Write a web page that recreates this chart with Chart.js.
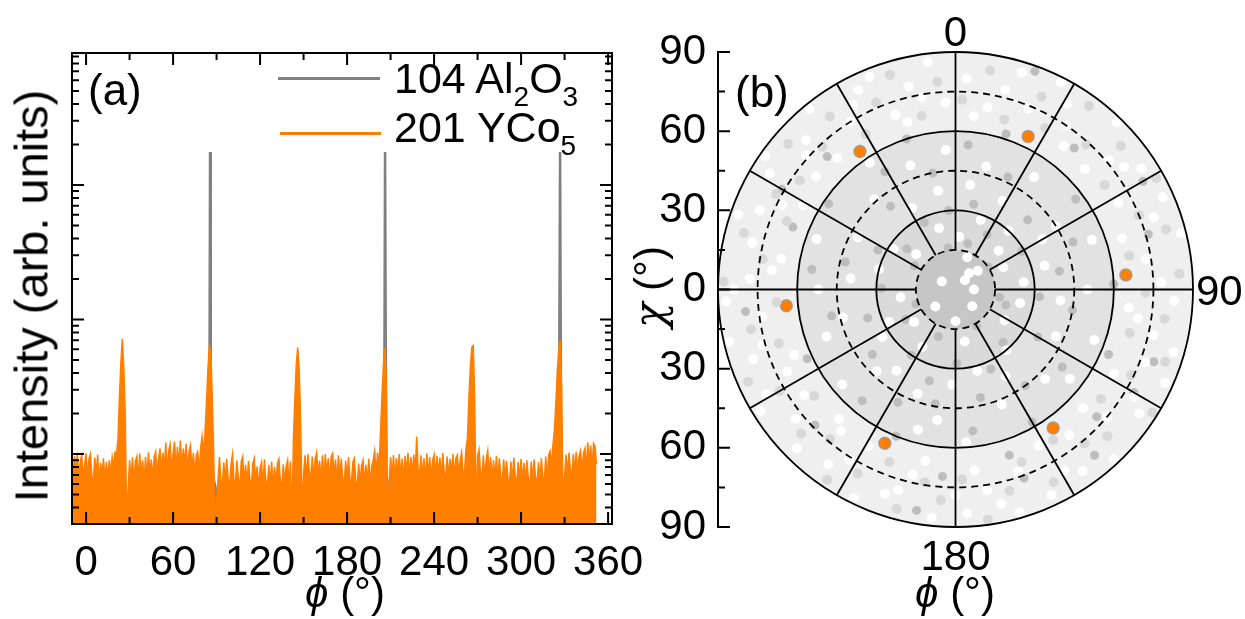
<!DOCTYPE html>
<html>
<head>
<meta charset="utf-8">
<script src="https://cdn.jsdelivr.net/npm/chart.js@4/dist/chart.umd.min.js"></script>
<style>
  html, body { margin: 0; padding: 0; background: #fff; }
  #wrap { position: relative; width: 1245px; height: 619px; overflow: hidden;
          font-family: "Liberation Sans", Arial, sans-serif; color: #000; }
  canvas { position: absolute; top: 0; }
  #phiChart { left: 0; }
  #poleChart { left: 620px; }
  .lbl { position: absolute; white-space: nowrap; line-height: 1; font-size: 42px; }
  .sub { font-size: 28px; position: relative; top: 13px; }
  .key { position: absolute; height: 3px; }
  .chi { font-family: "DejaVu Serif", serif; font-style: italic; }
</style>
</head>
<body>
<div id="wrap">
  <canvas id="phiChart" width="660" height="619"></canvas>
  <canvas id="poleChart" width="625" height="619"></canvas>

  <div class="lbl" style="left:31px;top:296px;font-size:47px;transform:translate(-50%,-50%) rotate(-90deg);">Intensity (arb. units)</div>
  <div class="lbl" style="left:88px;top:68px;font-size:44px;">(a)</div>
  <div class="key" style="left:278px;top:77px;width:102px;background:#808080;"></div>
  <div class="lbl" style="left:394px;top:57px;font-size:43px;">104 Al<span class="sub">2</span>O<span class="sub">3</span></div>
  <div class="key" style="left:280px;top:132px;width:101px;background:#ff7f00;"></div>
  <div class="lbl" style="left:394px;top:106px;font-size:43px;">201 YCo<span class="sub">5</span></div>
  <div class="lbl" style="left:345px;top:572px;transform:translateX(-50%);"><i>ϕ</i> (°)</div>

  <div class="lbl" style="left:735px;top:70px;font-size:44px;">(b)</div>
  <div class="lbl" style="left:650px;top:287px;transform:translate(-50%,-50%) rotate(-90deg);"><span class="chi">χ</span> (°)</div>
  <div class="lbl" style="left:955px;top:572px;transform:translateX(-50%);"><i>ϕ</i> (°)</div>
</div>

<script>
const FONT = '"Liberation Sans", Arial, sans-serif';
const ORANGE = '#ff7f00';
const GRAY = '#808080';

// (a) phi scans, YCo5 201 sampled every degree from phiStart
const phiStart = -9;
const ycoInt = [
  6.8, 9.6, 7.0, 10.2, 6.4, 8.9, 9.8, 6.6, 8.4, 10.1,
  6.5, 9.2, 10.0, 6.9, 6.2, 9.4, 7.1, 9.9, 6.0, 8.6,
  7.0, 9.3, 6.3, 8.7, 6.6, 9.0, 7.2, 9.5, 8.0, 10.3,
  10.0, 13, 26, 48, 72, 44, 20, 3.2, 5.5, 9.0,
  6.6, 9.4, 6.2, 8.8, 9.6, 6.5, 10.1, 6.9, 9.0, 6.3,
  9.5, 6.7, 10.3, 7.2, 9.1, 6.4, 9.6, 10.4, 6.8, 9.2,
  11.0, 7.3, 10.2, 8.0, 12.2, 7.1, 10.6, 11.8, 7.6, 10.0,
  12.4, 7.5, 11.3, 8.2, 12.6, 7.8, 11.0, 8.6, 11.9, 7.4,
  10.5, 11.6, 7.6, 10.2, 7.0, 9.8, 10.4, 7.4, 11.0, 13.5,
  10.0, 14, 24, 42, 63, 58, 27, 10, 3.0, 4.5,
  6.4, 9.5, 6.3, 5.9, 8.7, 6.1, 9.2, 6.5, 5.8, 8.5,
  10.0, 6.3, 6.0, 9.0, 6.6, 5.6, 8.8, 9.6, 6.1, 8.3,
  5.9, 8.9, 6.4, 5.7, 8.5, 9.3, 6.1, 8.1, 5.5, 7.9,
  8.7, 5.8, 9.1, 6.3, 5.7, 8.3, 6.0, 8.8, 5.6, 8.0,
  6.1, 8.6, 9.2, 6.2, 5.8, 8.4, 6.0, 8.1, 9.0, 6.0,
  8.8, 3.0, 13, 26, 47, 62, 42, 17, 3.5, 7.0,
  9.8, 6.6, 10.0, 7.2, 6.8, 9.6, 6.4, 9.2, 10.3, 7.0,
  8.9, 6.5, 9.8, 6.7, 10.0, 7.1, 9.3, 6.2, 9.5, 10.1,
  6.9, 9.1, 6.3, 9.8, 6.8, 9.2, 6.6, 6.0, 8.9, 6.7,
  9.5, 6.4, 6.1, 8.7, 9.3, 6.2, 5.8, 8.5, 6.0, 8.2,
  9.0, 5.9, 8.3, 6.2, 9.2, 5.7, 8.1, 8.9, 10.5, 7.1,
  10.2, 8.0, 14, 26, 45, 61, 38, 3.2, 6.0, 9.5,
  6.7, 9.8, 6.5, 9.3, 7.0, 10.0, 6.8, 9.2, 6.3, 9.7,
  7.2, 10.2, 6.6, 9.5, 7.1, 9.9, 7.4, 13.5, 7.7, 6.9,
  9.8, 6.7, 9.3, 6.4, 10.1, 7.0, 9.5, 6.5, 9.0, 9.9,
  6.8, 9.7, 7.1, 9.4, 6.6, 10.2, 7.2, 6.9, 9.6, 6.7,
  9.2, 7.1, 10.0, 6.8, 9.3, 9.8, 7.0, 9.1, 10.3, 7.2,
  7.4, 11.0, 13, 26, 44, 62, 64, 26, 3.4, 9.7,
  10.8, 7.4, 6.8, 9.8, 6.6, 9.2, 10.6, 7.0, 9.5, 6.4,
  9.0, 6.7, 9.7, 6.2, 9.3, 6.9, 6.1, 9.1, 6.6, 8.9,
  6.5, 6.0, 8.8, 6.3, 9.4, 6.8, 5.9, 8.7, 6.4, 9.2,
  6.2, 8.6, 6.1, 9.0, 6.6, 5.8, 8.8, 6.5, 9.1, 6.7,
  6.0, 8.7, 6.3, 9.3, 6.8, 6.2, 9.6, 6.6, 9.8, 10.5,
  8.2, 11.8, 15, 24, 42, 60, 70, 30, 3.3, 7.0,
  9.9, 7.0, 10.2, 7.6, 6.8, 10.0, 7.4, 10.4, 7.1, 9.7,
  10.6, 7.5, 10.1, 11.0, 7.8, 12.2, 8.6, 11.6, 8.1, 12.0,
  11.4, 8.4
];

// Al2O3 104, only where it shows
const alPhi = [-9, 21, 23, 25, 27, 29,
  81, 83, 85, 85.5, 86, 88, 90, 92,
  140, 142, 144, 146, 148, 150, 152,
  201, 203, 205.5, 206.2, 207, 209, 211,
  261, 263, 265, 266.5, 268, 270,
  321, 323, 326, 326.9, 327.7, 329, 331, 352];
const alInt = [2.5, 2.5, 4.2, 5.7, 5.0, 2.5,
  2.5, 4.5, 7.5, 1760, 7.5, 6.5, 5.2, 2.5,
  2.5, 5.0, 5.5, 5.8, 5.4, 4.5, 2.5,
  2.5, 4.5, 7, 1760, 7, 5.5, 2.5,
  2.5, 4.6, 5.5, 5.9, 5.2, 2.5,
  2.5, 4.5, 7, 1760, 7, 5.4, 2.5, 2.5];

const phiTicks = [0, 60, 120, 180, 240, 300, 360];
const phiMinor = [30, 90, 150, 210, 270, 330];

// (b) pole figure, [phi, chi] in degrees
const spotPhi = [25.4, 85.1, 144.8, 204.7, 264.5, 325.3];
const spotChi = [64.2, 64.8, 64.2, 64.1, 64.4, 63.6];

const lightSpeck = [
  [3,80],[10,70],[17,86],[22,74],[31,82],[37,68],[44,88],[50,76],[57,84],[62,70],
  [70,80],[76,88],[81,73],[93,83],[99,70],[106,86],[111,77],[118,68],[124,84],[130,75],
  [137,88],[142,70],[149,80],[155,86],[161,73],[168,83],[174,69],[180,78],[186,87],[193,72],
  [199,82],[206,88],[212,76],[219,69],[225,85],[231,78],[238,87],[244,71],[251,81],[257,88],
  [262,74],[270,84],[276,70],[283,79],[289,87],[296,73],[302,83],[309,68],[315,80],[321,88],
  [328,75],[334,84],[341,70],[347,79],[353,87],
  [6,66],[14,78],[27,88],[34,75],[47,67],[54,79],[66,86],[73,66],[88,78],[96,66],
  [103,77],[114,87],[121,79],[133,66],[145,84],[152,67],[164,88],[171,77],[177,85],[190,66],
  [196,79],[209,68],[216,82],[222,66],[235,70],[241,82],[248,66],[254,76],[267,87],[273,78],
  [280,67],[292,80],[299,66],[305,88],[312,76],[318,67],[331,80],[338,87],[344,66],[350,74],[357,71],
  [8,40],[20,28],[35,52],[48,22],[58,45],[75,35],[90,50],[102,25],[115,42],[128,55],
  [140,30],[158,47],[170,20],[182,36],[195,55],[210,25],[224,43],[237,33],[250,52],[262,21],
  [276,40],[290,56],[303,28],[318,46],[332,35],[345,24],[356,53],
  [28,38],[65,20],[84,26],[110,56],[150,38],[200,42],[230,56],[285,30],[340,50],
  [4,20],[14,48],[42,30],[70,55],[96,40],[122,22],[135,48],[165,32],[188,50],[216,38],
  [244,28],[256,44],[270,52],[298,42],[312,20],[326,58],[350,38],[60,38],[176,58],[232,20],
  [40,8],[45,5],[50,11],[135,9],[180,12],[300,6],[230,10],[20,13],[90,7]
];

const paleSpeck = [
  [2,72],[9,84],[16,67],[24,80],[29,70],[36,86],[42,74],[49,83],[55,69],[61,87],
  [68,75],[74,83],[79,67],[86,85],[91,72],[98,80],[104,68],[109,84],[116,74],[122,88],
  [127,69],[134,80],[140,76],[147,68],[153,82],[159,70],[165,79],[172,88],[178,72],[184,80],
  [189,74],[195,86],[201,70],[208,79],[214,87],[220,74],[227,80],[233,67],[240,77],[246,86],
  [253,70],[259,79],[266,68],[272,88],[279,74],[285,83],[292,69],[298,77],[305,72],[311,84],
  [317,74],[324,81],[330,68],[337,77],[343,85],[349,67],[355,79]
];

const darkSpeck = [
  [5,55],[12,33],[18,62],[25,47],[30,24],[40,70],[46,38],[53,57],[60,29],[68,48],
  [74,76],[80,40],[88,60],[95,32],[100,45],[107,20],[113,63],[120,36],[126,50],[132,72],
  [138,27],[144,45],[150,58],[156,33],[162,66],[167,42],[173,54],[179,28],[184,71],[190,44],
  [196,36],[202,60],[207,48],[214,30],[220,55],[226,74],[232,40],[239,22],[245,62],[252,35],
  [258,48],[264,80],[271,28],[278,55],[284,43],[291,66],[297,33],[304,58],[310,24],[316,70],
  [322,40],[329,52],[335,28],[342,60],[349,45],[355,30],
  [15,18],[55,15],[100,17],[150,16],[200,19],[250,16],[300,18],[350,16],
  [120,78],[140,82],[160,76],[110,80],[190,85],[300,76],[60,82],[20,88]
];

const chiTicks = [-90, -60, -30, 0, 30, 60, 90];
const chiMinor = [-75, -45, -15, 15, 45, 75];
const phiLabels = ['0', '90', '180'];
const solidRings = [30, 60, 90];
const dashedRings = [15, 45, 75];
const spokePhi = [0, 30, 60, 90, 120, 150, 180, 210, 240, 270, 300, 330];

const toXY = (phi, chi) => ({
  x: chi * Math.sin(phi * Math.PI / 180),
  y: chi * Math.cos(phi * Math.PI / 180)
});

// box with inward ticks round panel (a)
const phiFrame = {
  id: 'phiFrame',
  afterDatasetsDraw(chart) {
    const { ctx, chartArea: a, scales: { x, y } } = chart;
    const tick = (px, py, dx, dy) => { ctx.moveTo(px, py); ctx.lineTo(px + dx, py + dy); };
    ctx.save();
    ctx.strokeStyle = '#000';
    ctx.lineWidth = 2;
    ctx.beginPath();
    phiTicks.forEach((v) => {
      const p = x.getPixelForValue(v);
      tick(p, a.bottom, 0, -12); tick(p, a.top, 0, 12);
    });
    phiMinor.forEach((v) => {
      const p = x.getPixelForValue(v);
      tick(p, a.bottom, 0, -7); tick(p, a.top, 0, 7);
    });
    for (let d = 1; d <= 1000; d *= 10) {
      for (let m = 1; m <= 9; m++) {
        const v = d * m;
        if (v < y.min || v > y.max) continue;
        const p = y.getPixelForValue(v);
        const len = m === 1 ? 12 : 7;
        tick(a.left, p, len, 0); tick(a.right, p, -len, 0);
      }
    }
    ctx.stroke();
    ctx.strokeRect(a.left, a.top, a.right - a.left, a.bottom - a.top);
    ctx.restore();
  }
};

new Chart(document.getElementById('phiChart'), {
  type: 'line',
  data: {
    datasets: [
      {
        label: '201 YCo5',
        data: ycoInt.map((v, i) => ({ x: phiStart + i, y: v })),
        borderColor: ORANGE, backgroundColor: ORANGE,
        borderWidth: 1.5, pointRadius: 0, fill: 'start', order: 1
      },
      {
        label: '104 Al2O3',
        data: alPhi.map((p, i) => ({ x: p, y: alInt[i] })),
        borderColor: GRAY, backgroundColor: GRAY,
        borderWidth: 2.5, pointRadius: 0, fill: 'start', order: 2
      }
    ]
  },
  options: {
    responsive: false,
    animation: false,
    layout: { padding: { top: 53, right: 48, bottom: 0, left: 0 } },
    plugins: { legend: { display: false }, tooltip: { enabled: false } },
    scales: {
      x: {
        type: 'linear', min: -9.7, max: 362.7,
        grid: { display: false }, border: { display: false },
        afterBuildTicks: (s) => { s.ticks = phiTicks.map((v) => ({ value: v })); },
        afterFit: (s) => { s.height = 95; },
        ticks: { font: { family: FONT, size: 42 }, color: '#000', padding: 6, maxRotation: 0, autoSkip: false }
      },
      y: {
        type: 'logarithmic', min: 3.02, max: 9570,
        grid: { display: false }, border: { display: false },
        ticks: { display: false },
        afterFit: (s) => { s.width = 72; }
      }
    }
  },
  plugins: [phiFrame]
});

// shading, rings, spokes and labels of the pole figure
const poleGrid = {
  id: 'poleGrid',
  beforeDatasetsDraw(chart) {
    const { ctx, scales: { x, y } } = chart;
    const cx = x.getPixelForValue(0), cy = y.getPixelForValue(0);
    const rad = (c) => x.getPixelForValue(c) - cx;
    ctx.save();
    [[90, '#efefef'], [60, '#e2e2e2'], [30, '#dadada'], [15, '#c6c6c6']].forEach(([c, col]) => {
      ctx.fillStyle = col;
      ctx.beginPath();
      ctx.arc(cx, cy, rad(c), 0, 2 * Math.PI);
      ctx.fill();
    });
    ctx.restore();
  },
  afterDatasetsDraw(chart) {
    const { ctx, chartArea: a, scales: { x, y } } = chart;
    const cx = x.getPixelForValue(0), cy = y.getPixelForValue(0);
    const rad = (c) => x.getPixelForValue(c) - cx;
    ctx.save();
    ctx.strokeStyle = '#000';
    ctx.lineWidth = 1.8;
    solidRings.forEach((c) => {
      ctx.beginPath(); ctx.arc(cx, cy, rad(c), 0, 2 * Math.PI); ctx.stroke();
    });
    ctx.setLineDash([7, 5]);
    dashedRings.forEach((c) => {
      ctx.beginPath(); ctx.arc(cx, cy, rad(c), 0, 2 * Math.PI); ctx.stroke();
    });
    ctx.setLineDash([]);
    ctx.beginPath();
    spokePhi.forEach((p) => {
      const s = toXY(p, 15), e = toXY(p, 90);
      ctx.moveTo(x.getPixelForValue(s.x), y.getPixelForValue(s.y));
      ctx.lineTo(x.getPixelForValue(e.x), y.getPixelForValue(e.y));
    });
    ctx.stroke();

    // chi axis ticks point inwards
    ctx.lineWidth = 2;
    ctx.beginPath();
    chiTicks.forEach((v) => { const p = y.getPixelForValue(v); ctx.moveTo(a.left, p); ctx.lineTo(a.left + 12, p); });
    chiMinor.forEach((v) => { const p = y.getPixelForValue(v); ctx.moveTo(a.left, p); ctx.lineTo(a.left + 7, p); });
    ctx.stroke();

    ctx.fillStyle = '#000';
    ctx.font = '42px ' + FONT;
    const r90 = rad(90);
    const spots = {
      '0': [cx, cy - r90 - 6, 'center'],
      '90': [cx + r90 + 3, cy + 15, 'left'],
      '180': [cx, cy + r90 + 43, 'center']
    };
    phiLabels.forEach((t) => {
      const [px, py, al] = spots[t];
      ctx.textAlign = al;
      ctx.fillText(t, px, py);
    });
    ctx.restore();
  }
};

new Chart(document.getElementById('poleChart'), {
  type: 'scatter',
  data: {
    datasets: [
      { data: paleSpeck.map(([p, c]) => toXY(p, c)), pointRadius: 5, backgroundColor: '#d8d8d8', borderWidth: 0 },
      { data: lightSpeck.map(([p, c]) => toXY(p, c)), pointRadius: 5, backgroundColor: '#ffffff', borderWidth: 0 },
      { data: darkSpeck.map(([p, c]) => toXY(p, c)), pointRadius: 4.5, backgroundColor: '#bdbdbd', borderWidth: 0 },
      {
        data: spotPhi.map((p, i) => toXY(p, spotChi[i])),
        pointRadius: 6, backgroundColor: ORANGE,
        borderColor: 'rgba(150,150,150,0.8)', borderWidth: 1.5
      }
    ]
  },
  options: {
    responsive: false,
    animation: false,
    layout: { padding: { top: 52, right: 52, bottom: 92, left: 0 } },
    plugins: { legend: { display: false }, tooltip: { enabled: false } },
    scales: {
      x: { type: 'linear', min: -90, max: 90, display: false },
      y: {
        type: 'linear', min: -90, max: 90, position: 'left',
        grid: { display: false },
        border: { display: true, color: '#000', width: 2 },
        afterBuildTicks: (s) => { s.ticks = chiTicks.map((v) => ({ value: v })); },
        afterFit: (s) => { s.width = 98; },
        ticks: { callback: (v) => Math.abs(v), font: { family: FONT, size: 42 }, color: '#000', padding: 4 }
      }
    }
  },
  plugins: [poleGrid]
});
</script>
</body>
</html>
